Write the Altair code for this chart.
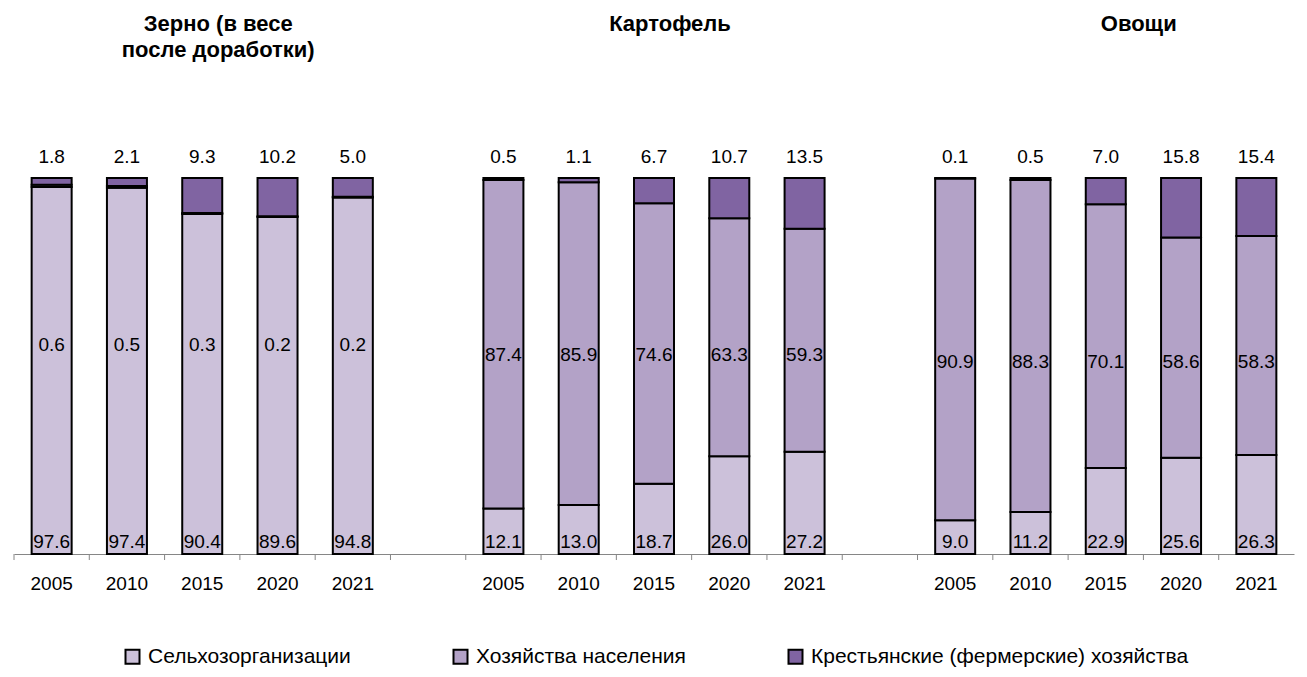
import altair as alt
import pandas as pd

years = ["2005", "2010", "2015", "2020", "2021"]
series = ["Сельхозорганизации", "Хозяйства населения", "Крестьянские (фермерские) хозяйства"]
colors = ["#CCC1DA", "#B3A2C7", "#8064A2"]
titles = ["Зерно (в весе\nпосле доработки)", "Картофель", "Овощи"]

grain_org = [97.6, 97.4, 90.4, 89.6, 94.8]
grain_pop = [0.6, 0.5, 0.3, 0.2, 0.2]
grain_farm = [1.8, 2.1, 9.3, 10.2, 5.0]
potato_org = [12.1, 13.0, 18.7, 26.0, 27.2]
potato_pop = [87.4, 85.9, 74.6, 63.3, 59.3]
potato_farm = [0.5, 1.1, 6.7, 10.7, 13.5]
veg_org = [9.0, 11.2, 22.9, 25.6, 26.3]
veg_pop = [90.9, 88.3, 70.1, 58.6, 58.3]
veg_farm = [0.1, 0.5, 7.0, 15.8, 15.4]

groups = [
    (grain_org, grain_pop, grain_farm),
    (potato_org, potato_pop, potato_farm),
    (veg_org, veg_pop, veg_farm),
]
mid_level = [55.5, 53.0, 51.0]  # height (in %) of the middle-series labels

FONT = "Liberation Sans"

slots = []
rows = []
for g, vals in enumerate(groups):
    for i, y in enumerate(years):
        s = f"{g}_{y}"
        slots.append(s)
        for k, name in enumerate(series):
            rows.append({"slot": s, "series": name, "idx": k, "value": float(vals[k][i]),
                         "label": f"{vals[k][i]:.1f}", "mid": mid_level[g],
                         "zero": 0.0, "full": 100.0})
    if g < 2:
        slots.append(f"gap{g}")
df = pd.DataFrame(rows)

W, H = 1280, 376
xscale = alt.Scale(domain=slots)
yscale = alt.Scale(domain=[0, 100])
xaxis = alt.Axis(title=None, labelAngle=0, ticks=False, tickSize=0, labelPadding=20,
                 domainColor="#868686", labelFont=FONT, labelFontSize=19, labelColor="black",
                 labelExpr="indexof(datum.value,'gap')>=0 ? '' : split(datum.value,'_')[1]")


def X():
    return alt.X("slot:N", sort=slots, scale=xscale, axis=xaxis)


def Y(field):
    return alt.Y(field, scale=yscale, axis=None)


base = alt.Chart(df)
bars = base.mark_bar(size=40, stroke="black", strokeWidth=2).encode(
    x=X(),
    y=alt.Y("value:Q", stack="zero", scale=yscale, axis=None),
    color=alt.Color("series:N", scale=alt.Scale(domain=series, range=colors),
                    legend=alt.Legend(orient="none", legendX=108, legendY=468,
                                      direction="horizontal", title=None,
                                      symbolType="square", symbolSize=196,
                                      symbolStrokeColor="black", symbolStrokeWidth=2,
                                      symbolOpacity=1, labelFont=FONT, labelFontSize=21,
                                      labelColor="black", labelLimit=500,
                                      columnPadding=98, labelOffset=5)),
    order=alt.Order("idx:Q"),
)
txt = dict(font=FONT, fontSize=19, color="black")
bottom = base.transform_filter("datum.idx == 0").mark_text(dy=-12, **txt).encode(
    x=X(), y=Y("zero:Q"), text="label:N")
middle = base.transform_filter("datum.idx == 1").mark_text(**txt).encode(
    x=X(), y=Y("mid:Q"), text="label:N")
top = base.transform_filter("datum.idx == 2").mark_text(dy=-21, **txt).encode(
    x=X(), y=Y("full:Q"), text="label:N")

# axis ticks at band boundaries
tick_df = pd.DataFrame({"slot": slots, "zero": 0.0, "tick": -1.6})
ticks = alt.Chart(tick_df).mark_rule(color="#868686", strokeWidth=1,
                                     xOffset=-W / len(slots) / 2).encode(
    x=X(), y=Y("zero:Q"), y2="tick:Q")

layers = [bars, bottom, middle, top, ticks]

# panel titles
tdf = pd.DataFrame({"slot": ["0_2015", "1_2015", "2_2015"], "title": titles, "full": 100.0})
title_dx = [16, 16, 33]
for i in range(3):
    layers.append(
        alt.Chart(tdf.iloc[[i]]).mark_text(
            font=FONT, fontSize=22, fontWeight="bold", lineBreak="\n", baseline="top",
            lineHeight=26, dx=title_dx[i], dy=-164, color="black").encode(
            x=X(), y=Y("full:Q"), text="title:N"))

chart = alt.layer(*layers).properties(width=W, height=H).configure_view(stroke="transparent")

chart.save("out.html", embed_options={"renderer": "svg", "actions": False})
